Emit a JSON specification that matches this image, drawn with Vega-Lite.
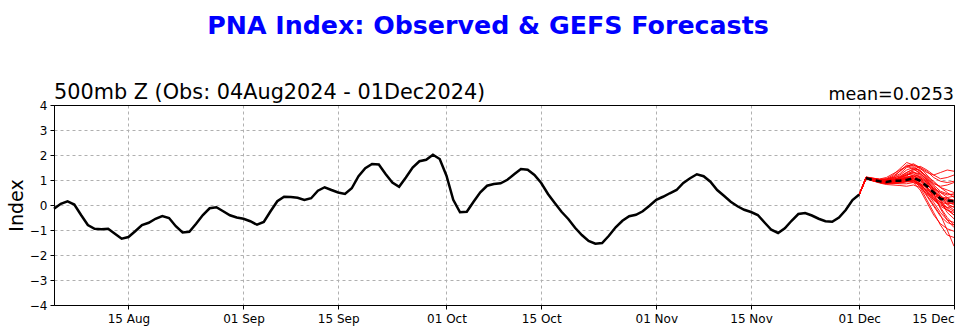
{
  "$schema": "https://vega.github.io/schema/vega-lite/v6.json",
  "autosize": {"type": "none"},
  "width": 900,
  "height": 200,
  "padding": {"left": 54, "top": 105, "right": 26, "bottom": 31},
  "background": "white",
  "title": {
    "text": "PNA Index: Observed & GEFS Forecasts",
    "font": "DejaVu Sans",
    "fontSize": 25.3,
    "fontWeight": "bold",
    "color": "#0000ff",
    "anchor": "middle",
    "frame": "group",
    "dx": -16,
    "offset": 43
  },
  "config": {
    "view": {"stroke": "black", "strokeWidth": 1},
    "axis": {
      "labelFont": "DejaVu Sans",
      "labelFontSize": 12,
      "labelColor": "black",
      "tickColor": "black",
      "tickSize": 4,
      "domain": true,
      "domainColor": "black",
      "grid": true,
      "gridWidth": 1,
      "titleFont": "DejaVu Sans",
      "titleFontWeight": "normal",
      "titleColor": "black"
    }
  },
  "datasets": {
    "obs": [
      {"date": "2024-08-04", "value": -0.15}, {"date": "2024-08-05", "value": 0.05}, {"date": "2024-08-06", "value": 0.15}, {"date": "2024-08-07", "value": 0.02},
      {"date": "2024-08-08", "value": -0.4}, {"date": "2024-08-09", "value": -0.8}, {"date": "2024-08-10", "value": -0.95}, {"date": "2024-08-11", "value": -0.97},
      {"date": "2024-08-12", "value": -0.95}, {"date": "2024-08-13", "value": -1.15}, {"date": "2024-08-14", "value": -1.35}, {"date": "2024-08-15", "value": -1.28},
      {"date": "2024-08-16", "value": -1.05}, {"date": "2024-08-17", "value": -0.8}, {"date": "2024-08-18", "value": -0.71}, {"date": "2024-08-19", "value": -0.55},
      {"date": "2024-08-20", "value": -0.44}, {"date": "2024-08-21", "value": -0.52}, {"date": "2024-08-22", "value": -0.85}, {"date": "2024-08-23", "value": -1.1},
      {"date": "2024-08-24", "value": -1.07}, {"date": "2024-08-25", "value": -0.75}, {"date": "2024-08-26", "value": -0.4}, {"date": "2024-08-27", "value": -0.13},
      {"date": "2024-08-28", "value": -0.09}, {"date": "2024-08-29", "value": -0.25}, {"date": "2024-08-30", "value": -0.41}, {"date": "2024-08-31", "value": -0.5},
      {"date": "2024-09-01", "value": -0.55}, {"date": "2024-09-02", "value": -0.65}, {"date": "2024-09-03", "value": -0.79}, {"date": "2024-09-04", "value": -0.68},
      {"date": "2024-09-05", "value": -0.25}, {"date": "2024-09-06", "value": 0.15}, {"date": "2024-09-07", "value": 0.33}, {"date": "2024-09-08", "value": 0.32},
      {"date": "2024-09-09", "value": 0.29}, {"date": "2024-09-10", "value": 0.2}, {"date": "2024-09-11", "value": 0.27}, {"date": "2024-09-12", "value": 0.57},
      {"date": "2024-09-13", "value": 0.71}, {"date": "2024-09-14", "value": 0.6}, {"date": "2024-09-15", "value": 0.5}, {"date": "2024-09-16", "value": 0.44},
      {"date": "2024-09-17", "value": 0.67}, {"date": "2024-09-18", "value": 1.15}, {"date": "2024-09-19", "value": 1.47}, {"date": "2024-09-20", "value": 1.64},
      {"date": "2024-09-21", "value": 1.62}, {"date": "2024-09-22", "value": 1.24}, {"date": "2024-09-23", "value": 0.9}, {"date": "2024-09-24", "value": 0.73},
      {"date": "2024-09-25", "value": 1.1}, {"date": "2024-09-26", "value": 1.5}, {"date": "2024-09-27", "value": 1.75}, {"date": "2024-09-28", "value": 1.81},
      {"date": "2024-09-29", "value": 2.01}, {"date": "2024-09-30", "value": 1.84}, {"date": "2024-10-01", "value": 1.17}, {"date": "2024-10-02", "value": 0.21},
      {"date": "2024-10-03", "value": -0.29}, {"date": "2024-10-04", "value": -0.27}, {"date": "2024-10-05", "value": 0.13}, {"date": "2024-10-06", "value": 0.51},
      {"date": "2024-10-07", "value": 0.77}, {"date": "2024-10-08", "value": 0.84}, {"date": "2024-10-09", "value": 0.87}, {"date": "2024-10-10", "value": 1.01},
      {"date": "2024-10-11", "value": 1.23}, {"date": "2024-10-12", "value": 1.44}, {"date": "2024-10-13", "value": 1.41}, {"date": "2024-10-14", "value": 1.2},
      {"date": "2024-10-15", "value": 0.88}, {"date": "2024-10-16", "value": 0.44}, {"date": "2024-10-17", "value": 0.08}, {"date": "2024-10-18", "value": -0.27},
      {"date": "2024-10-19", "value": -0.56}, {"date": "2024-10-20", "value": -0.91}, {"date": "2024-10-21", "value": -1.2}, {"date": "2024-10-22", "value": -1.44},
      {"date": "2024-10-23", "value": -1.55}, {"date": "2024-10-24", "value": -1.52}, {"date": "2024-10-25", "value": -1.23}, {"date": "2024-10-26", "value": -0.89},
      {"date": "2024-10-27", "value": -0.63}, {"date": "2024-10-28", "value": -0.45}, {"date": "2024-10-29", "value": -0.39}, {"date": "2024-10-30", "value": -0.25},
      {"date": "2024-10-31", "value": -0.03}, {"date": "2024-11-01", "value": 0.21}, {"date": "2024-11-02", "value": 0.33}, {"date": "2024-11-03", "value": 0.47},
      {"date": "2024-11-04", "value": 0.6}, {"date": "2024-11-05", "value": 0.88}, {"date": "2024-11-06", "value": 1.07}, {"date": "2024-11-07", "value": 1.23},
      {"date": "2024-11-08", "value": 1.15}, {"date": "2024-11-09", "value": 0.93}, {"date": "2024-11-10", "value": 0.6}, {"date": "2024-11-11", "value": 0.37},
      {"date": "2024-11-12", "value": 0.13}, {"date": "2024-11-13", "value": -0.05}, {"date": "2024-11-14", "value": -0.19}, {"date": "2024-11-15", "value": -0.28},
      {"date": "2024-11-16", "value": -0.4}, {"date": "2024-11-17", "value": -0.7}, {"date": "2024-11-18", "value": -0.99}, {"date": "2024-11-19", "value": -1.12},
      {"date": "2024-11-20", "value": -0.93}, {"date": "2024-11-21", "value": -0.63}, {"date": "2024-11-22", "value": -0.36}, {"date": "2024-11-23", "value": -0.32},
      {"date": "2024-11-24", "value": -0.42}, {"date": "2024-11-25", "value": -0.55}, {"date": "2024-11-26", "value": -0.65}, {"date": "2024-11-27", "value": -0.67},
      {"date": "2024-11-28", "value": -0.5}, {"date": "2024-11-29", "value": -0.2}, {"date": "2024-11-30", "value": 0.2}, {"date": "2024-12-01", "value": 0.42}
    ],
    "mean": [
      {"date": "2024-12-02", "value": 1.08}, {"date": "2024-12-03", "value": 1.0}, {"date": "2024-12-04", "value": 0.95}, {"date": "2024-12-05", "value": 0.92},
      {"date": "2024-12-06", "value": 0.97}, {"date": "2024-12-07", "value": 0.97}, {"date": "2024-12-08", "value": 1.0}, {"date": "2024-12-09", "value": 1.08},
      {"date": "2024-12-10", "value": 0.97}, {"date": "2024-12-11", "value": 0.75}, {"date": "2024-12-12", "value": 0.5}, {"date": "2024-12-13", "value": 0.25},
      {"date": "2024-12-14", "value": 0.18}, {"date": "2024-12-15", "value": 0.15}
    ],
    "ens": [
      {"date": "2024-12-01", "m01": 0.42, "m02": 0.42, "m03": 0.42, "m04": 0.42, "m05": 0.42, "m06": 0.42, "m07": 0.42, "m08": 0.42, "m09": 0.42, "m10": 0.42, "m11": 0.42, "m12": 0.42, "m13": 0.42, "m14": 0.42, "m15": 0.42, "m16": 0.42, "m17": 0.42, "m18": 0.42, "m19": 0.42, "m20": 0.42, "m21": 0.42, "m22": 0.42, "m23": 0.42, "m24": 0.42, "m25": 0.42, "m26": 0.42, "m27": 0.42, "m28": 0.42, "m29": 0.42, "m30": 0.42},
      {"date": "2024-12-02", "m01": 1.10, "m02": 1.05, "m03": 1.12, "m04": 1.08, "m05": 1.06, "m06": 1.10, "m07": 1.04, "m08": 1.09, "m09": 1.07, "m10": 1.11, "m11": 1.05, "m12": 1.08, "m13": 1.10, "m14": 1.06, "m15": 1.09, "m16": 1.07, "m17": 1.12, "m18": 1.05, "m19": 1.08, "m20": 1.06, "m21": 1.09, "m22": 1.07, "m23": 1.10, "m24": 1.05, "m25": 1.08, "m26": 1.06, "m27": 1.11, "m28": 1.07, "m29": 1.09, "m30": 1.06},
      {"date": "2024-12-03", "m01": 1.05, "m02": 1.00, "m03": 1.08, "m04": 0.98, "m05": 1.02, "m06": 1.00, "m07": 0.96, "m08": 1.03, "m09": 0.97, "m10": 1.05, "m11": 0.99, "m12": 1.01, "m13": 1.06, "m14": 0.98, "m15": 1.02, "m16": 1.00, "m17": 1.07, "m18": 0.97, "m19": 1.04, "m20": 1.00, "m21": 1.04, "m22": 0.99, "m23": 1.03, "m24": 0.98, "m25": 1.00, "m26": 1.01, "m27": 1.06, "m28": 0.98, "m29": 1.04, "m30": 1.00},
      {"date": "2024-12-04", "m01": 1.00, "m02": 0.95, "m03": 1.02, "m04": 0.90, "m05": 0.98, "m06": 0.92, "m07": 0.90, "m08": 0.98, "m09": 0.88, "m10": 1.00, "m11": 0.94, "m12": 0.96, "m13": 1.03, "m14": 0.92, "m15": 0.97, "m16": 0.94, "m17": 1.04, "m18": 0.90, "m19": 1.00, "m20": 0.95, "m21": 1.00, "m22": 0.93, "m23": 0.96, "m24": 0.93, "m25": 0.92, "m26": 0.97, "m27": 1.01, "m28": 0.91, "m29": 0.99, "m30": 0.95},
      {"date": "2024-12-05", "m01": 1.05, "m02": 1.00, "m03": 0.98, "m04": 0.85, "m05": 0.95, "m06": 0.90, "m07": 0.88, "m08": 1.02, "m09": 0.82, "m10": 1.00, "m11": 0.96, "m12": 0.92, "m13": 1.05, "m14": 0.90, "m15": 0.94, "m16": 0.90, "m17": 1.10, "m18": 0.86, "m19": 0.97, "m20": 0.93, "m21": 1.02, "m22": 0.90, "m23": 0.93, "m24": 0.92, "m25": 0.88, "m26": 0.95, "m27": 1.00, "m28": 0.88, "m29": 0.96, "m30": 0.97},
      {"date": "2024-12-06", "m01": 1.20, "m02": 1.10, "m03": 1.00, "m04": 0.90, "m05": 0.92, "m06": 0.95, "m07": 0.92, "m08": 1.08, "m09": 0.80, "m10": 1.05, "m11": 1.00, "m12": 0.90, "m13": 1.10, "m14": 0.88, "m15": 0.95, "m16": 0.92, "m17": 1.25, "m18": 0.85, "m19": 1.00, "m20": 0.95, "m21": 1.15, "m22": 0.90, "m23": 0.96, "m24": 0.96, "m25": 0.86, "m26": 0.98, "m27": 1.02, "m28": 0.92, "m29": 0.98, "m30": 1.05},
      {"date": "2024-12-07", "m01": 1.45, "m02": 1.35, "m03": 1.10, "m04": 0.95, "m05": 0.90, "m06": 1.00, "m07": 0.98, "m08": 1.15, "m09": 0.78, "m10": 1.05, "m11": 1.08, "m12": 0.92, "m13": 1.25, "m14": 0.85, "m15": 1.00, "m16": 0.95, "m17": 1.40, "m18": 0.88, "m19": 1.10, "m20": 1.00, "m21": 1.35, "m22": 0.95, "m23": 1.05, "m24": 1.02, "m25": 0.90, "m26": 1.05, "m27": 1.12, "m28": 1.00, "m29": 1.02, "m30": 1.20},
      {"date": "2024-12-08", "m01": 1.70, "m02": 1.55, "m03": 1.25, "m04": 1.00, "m05": 0.95, "m06": 1.10, "m07": 1.05, "m08": 1.30, "m09": 0.75, "m10": 1.00, "m11": 1.20, "m12": 0.95, "m13": 1.50, "m14": 0.85, "m15": 1.05, "m16": 0.98, "m17": 1.55, "m18": 0.92, "m19": 1.20, "m20": 1.10, "m21": 1.60, "m22": 1.05, "m23": 1.20, "m24": 1.15, "m25": 0.95, "m26": 1.12, "m27": 1.30, "m28": 1.08, "m29": 1.08, "m30": 1.40},
      {"date": "2024-12-09", "m01": 1.60, "m02": 1.65, "m03": 1.35, "m04": 1.05, "m05": 1.00, "m06": 1.20, "m07": 1.00, "m08": 1.45, "m09": 0.80, "m10": 0.95, "m11": 1.30, "m12": 0.90, "m13": 1.60, "m14": 0.90, "m15": 1.10, "m16": 1.05, "m17": 1.45, "m18": 0.95, "m19": 1.25, "m20": 1.15, "m21": 1.55, "m22": 1.10, "m23": 1.30, "m24": 1.40, "m25": 0.98, "m26": 1.18, "m27": 1.42, "m28": 1.05, "m29": 1.15, "m30": 1.50},
      {"date": "2024-12-10", "m01": 1.45, "m02": 1.50, "m03": 1.10, "m04": 0.80, "m05": 0.85, "m06": 1.15, "m07": 0.70, "m08": 1.40, "m09": 0.70, "m10": 0.85, "m11": 1.25, "m12": 0.60, "m13": 1.50, "m14": 0.80, "m15": 1.00, "m16": 0.95, "m17": 1.25, "m18": 0.75, "m19": 1.10, "m20": 1.05, "m21": 1.35, "m22": 0.90, "m23": 1.20, "m24": 1.55, "m25": 0.80, "m26": 1.00, "m27": 1.30, "m28": 0.85, "m29": 1.10, "m30": 1.35},
      {"date": "2024-12-11", "m01": 1.30, "m02": 1.20, "m03": 0.70, "m04": 0.40, "m05": 0.55, "m06": 0.95, "m07": 0.20, "m08": 1.10, "m09": 0.45, "m10": 0.70, "m11": 1.05, "m12": 0.10, "m13": 1.35, "m14": 0.60, "m15": 0.80, "m16": 0.65, "m17": 1.00, "m18": 0.35, "m19": 0.90, "m20": 0.85, "m21": 1.10, "m22": 0.50, "m23": 0.95, "m24": 1.40, "m25": 0.50, "m26": 0.70, "m27": 1.00, "m28": 0.55, "m29": 0.90, "m30": 1.15},
      {"date": "2024-12-12", "m01": 1.20, "m02": 0.90, "m03": 0.30, "m04": 0.00, "m05": 0.20, "m06": 0.60, "m07": -0.30, "m08": 0.80, "m09": 0.20, "m10": 0.50, "m11": 0.75, "m12": -0.40, "m13": 1.10, "m14": 0.40, "m15": 0.55, "m16": 0.35, "m17": 0.70, "m18": -0.05, "m19": 0.65, "m20": 0.55, "m21": 0.85, "m22": 0.10, "m23": 0.65, "m24": 1.20, "m25": 0.25, "m26": 0.40, "m27": 0.60, "m28": 0.30, "m29": 0.45, "m30": 0.95},
      {"date": "2024-12-13", "m01": 1.30, "m02": 0.70, "m03": -0.10, "m04": -0.40, "m05": 0.00, "m06": 0.30, "m07": -0.80, "m08": 0.55, "m09": -0.05, "m10": 0.30, "m11": 0.40, "m12": -0.75, "m13": 0.95, "m14": 0.20, "m15": 0.35, "m16": 0.10, "m17": 0.50, "m18": -0.45, "m19": 0.50, "m20": 0.15, "m21": 0.75, "m22": -0.30, "m23": 0.35, "m24": 1.05, "m25": 0.05, "m26": 0.25, "m27": 0.20, "m28": 0.10, "m29": -0.15, "m30": 0.70},
      {"date": "2024-12-14", "m01": 1.40, "m02": 0.60, "m03": -0.50, "m04": -1.00, "m05": -0.10, "m06": 0.10, "m07": -1.20, "m08": 0.45, "m09": -0.20, "m10": 0.20, "m11": 0.00, "m12": -0.95, "m13": 0.90, "m14": 0.05, "m15": 0.25, "m16": -0.10, "m17": 0.40, "m18": -0.70, "m19": 0.30, "m20": -0.30, "m21": 0.80, "m22": -0.60, "m23": 0.15, "m24": 1.10, "m25": -0.20, "m26": 0.30, "m27": -0.15, "m28": 0.05, "m29": -0.60, "m30": 0.50},
      {"date": "2024-12-15", "m01": 1.35, "m02": 0.50, "m03": -0.80, "m04": -1.65, "m05": -0.05, "m06": 0.05, "m07": -1.30, "m08": 0.40, "m09": -0.30, "m10": 0.15, "m11": -0.20, "m12": -1.05, "m13": 0.95, "m14": -0.10, "m15": 0.20, "m16": -0.25, "m17": 0.45, "m18": -0.80, "m19": 0.10, "m20": -0.55, "m21": 0.90, "m22": -0.70, "m23": 0.00, "m24": 1.20, "m25": -0.40, "m26": 0.35, "m27": -0.40, "m28": 0.10, "m29": -0.90, "m30": 0.30}
    ]
  },
  "encoding": {
    "x": {
      "field": "date",
      "type": "temporal",
      "scale": {
        "type": "utc",
        "domain": [1722729600000, 1734220800000]
      },
      "axis": {
        "title": null,
        "format": "%d %b",
        "labelPadding": 4,
        "gridColor": {"condition": {"test": "datum.value >= 1734220000000", "value": "black"}, "value": "#b0b0b0"},
        "gridDash": {"condition": {"test": "datum.value >= 1734220000000", "value": []}, "value": [3, 3]},
        "values": [1723680000000, 1725148800000, 1726358400000, 1727740800000, 1728950400000, 1730419200000, 1731628800000, 1733011200000, 1734220800000]
      }
    },
    "y": {
      "field": "value",
      "type": "quantitative",
      "scale": {"domain": [-4, 4], "nice": false},
      "axis": {
        "title": "Index",
        "titleFontSize": 19,
        "titlePadding": 3,
        "gridColor": {"condition": {"test": "datum.value === 4", "value": "black"}, "value": "#b0b0b0"},
        "gridDash": {"condition": {"test": "datum.value === 4", "value": []}, "value": [3, 3]},
        "values": [-4, -3, -2, -1, 0, 1, 2, 3, 4],
        "labelPadding": 3
      }
    }
  },
  "layer": [
    {
      "mark": {"type": "rule", "color": "#555555", "strokeWidth": 1.2},
      "encoding": {"x": null, "y": {"datum": 0, "type": "quantitative"}}
    },
    {
      "data": {"name": "ens"},
      "transform": [
        {"fold": ["m01", "m02", "m03", "m04", "m05", "m06", "m07", "m08", "m09", "m10", "m11", "m12", "m13", "m14", "m15", "m16", "m17", "m18", "m19", "m20", "m21", "m22", "m23", "m24", "m25", "m26", "m27", "m28", "m29", "m30"], "as": ["member", "value"]}
      ],
      "mark": {"type": "line", "color": "#ff0000", "strokeWidth": 0.9, "clip": true},
      "encoding": {"detail": {"field": "member"}}
    },
    {
      "data": {"name": "obs"},
      "mark": {"type": "line", "color": "black", "strokeWidth": 2.5}
    },
    {
      "data": {"name": "mean"},
      "mark": {"type": "line", "color": "black", "strokeWidth": 2.6, "strokeDash": [6, 4], "clip": true}
    },
    {
      "data": {"name": "obs"},
      "transform": [{"filter": {"field": "value", "equal": -0.15}}],
      "mark": {"type": "text", "font": "DejaVu Sans", "fontSize": 20.8, "align": "left", "baseline": "alphabetic", "dy": -6, "color": "black"},
      "encoding": {
        "y": {"datum": 4, "type": "quantitative"},
        "text": {"value": "500mb Z (Obs: 04Aug2024 - 01Dec2024)"}
      }
    },
    {
      "data": {"name": "mean"},
      "transform": [{"filter": {"field": "value", "equal": 0.15}}],
      "mark": {"type": "text", "font": "DejaVu Sans", "fontSize": 17.5, "align": "right", "baseline": "alphabetic", "dy": -5, "color": "black"},
      "encoding": {
        "y": {"datum": 4, "type": "quantitative"},
        "text": {"value": "mean=0.0253"}
      }
    }
  ]
}
